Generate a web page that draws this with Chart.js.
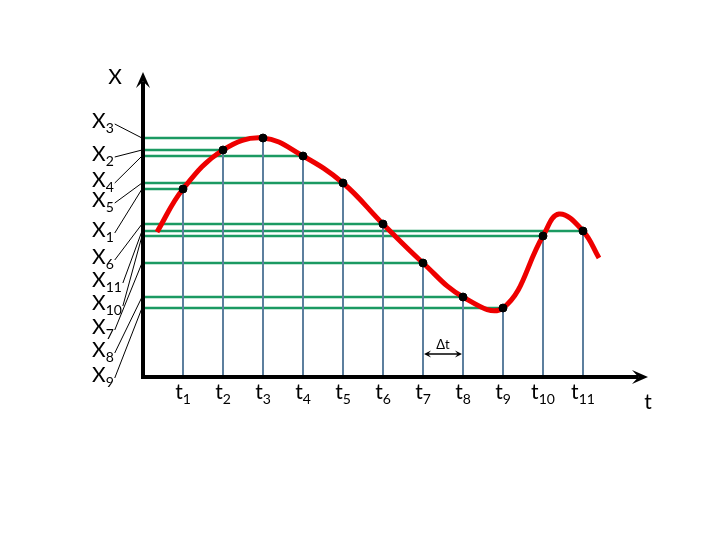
<!DOCTYPE html>
<html>
<head>
<meta charset="utf-8">
<script src="https://cdn.jsdelivr.net/npm/chart.js@4"></script>
<style>
  body { margin: 0; background: #fff; }
</style>
</head>
<body>
<canvas id="myChart" width="720" height="540"></canvas>
<script>
// sample instants t1..t11 and the value x at each one
const tNames = ['1', '2', '3', '4', '5', '6', '7', '8', '9', '10', '11'];
const tValues = [1, 2, 3, 4, 5, 6, 7, 8, 9, 10, 11];
const xValues = [18.8, 22.7, 23.9, 22.1, 19.4, 15.3, 11.4, 8.0, 6.9, 14.1, 14.6];
// order of the X labels down the left side
const xLabelOrder = [3, 2, 4, 5, 1, 6, 11, 10, 7, 8, 9];
// red signal curve
const curveT = [0.35, 1, 2, 3, 4, 5, 6, 7, 8, 9, 10, 10.4, 11, 11.4];
const curveX = [14.5, 18.8, 22.7, 23.9, 22.1, 19.4, 15.3, 11.4, 8.0, 6.9, 14.1, 16.3, 14.6, 11.9];

const FONT = 'Lato, "Open Sans", sans-serif';

// green horizontal and blue vertical guide lines, one segment per sample
const greenLines = [];
const blueLines = [];
tValues.forEach((t, i) => {
    greenLines.push({x: 0, y: xValues[i]}, {x: t, y: xValues[i]}, {x: t, y: null});
    blueLines.push({x: t, y: 0}, {x: t, y: xValues[i]}, {x: t, y: null});
});

function drawSub(ctx, base, sub, x, y, align) {
    ctx.font = '21px ' + FONT;
    const wb = ctx.measureText(base).width;
    ctx.font = '14px ' + FONT;
    const ws = ctx.measureText(sub).width;
    let left = x;
    if (align === 'center') left = x - (wb + ws) / 2;
    ctx.textAlign = 'left';
    ctx.textBaseline = 'alphabetic';
    ctx.font = '21px ' + FONT;
    ctx.fillText(base, left, y);
    ctx.font = '14px ' + FONT;
    ctx.fillText(sub, left + wb, y + 5);
    return left + wb + ws;
}

function arrowHead(ctx, x, y, dir, len, half) {
    // dir: unit vector of arrow direction
    const [dx, dy] = dir;
    ctx.beginPath();
    ctx.moveTo(x, y);
    ctx.lineTo(x - dx * len - dy * half, y - dy * len + dx * half);
    ctx.lineTo(x - dx * len * 0.6, y - dy * len * 0.6);
    ctx.lineTo(x - dx * len + dy * half, y - dy * len - dx * half);
    ctx.closePath();
    ctx.fill();
}

const axesPlugin = {
    id: 'axesPlugin',
    afterDraw(chart) {
        const ctx = chart.ctx;
        const xs = chart.scales.x, ys = chart.scales.y;
        const x0 = xs.getPixelForValue(0), y0 = ys.getPixelForValue(0);
        const xEnd = xs.right, yEnd = ys.top;
        ctx.save();
        ctx.fillStyle = '#000';
        ctx.strokeStyle = '#000';

        // axes
        ctx.lineWidth = 4;
        ctx.beginPath();
        ctx.moveTo(x0, yEnd + 10);
        ctx.lineTo(x0, y0);
        ctx.lineTo(xEnd - 10, y0);
        ctx.stroke();
        arrowHead(ctx, x0, yEnd, [0, -1], 16, 7);
        arrowHead(ctx, xEnd, y0, [1, 0], 16, 7);

        // axis names
        ctx.font = '21px ' + FONT;
        ctx.textAlign = 'center';
        ctx.textBaseline = 'middle';
        ctx.fillText('X', x0 - 28, yEnd + 5);
        ctx.fillText('t', xEnd, y0 + 25);

        // t labels
        tValues.forEach((t, i) => {
            drawSub(ctx, 't', tNames[i], xs.getPixelForValue(t), y0 + 22, 'center');
        });

        // X labels with leader lines to the axis
        const labelTop = 128, labelGap = [0, 33, 26, 20, 30, 27, 23, 23, 24, 23, 25];
        let ly = labelTop;
        ctx.lineWidth = 1;
        xLabelOrder.forEach((k, j) => {
            ly += labelGap[j];
            const right = drawSub(ctx, 'X', String(k), 92, ly, 'left');
            const gy = ys.getPixelForValue(xValues[k - 1]);
            ctx.beginPath();
            ctx.moveTo(right + 1, ly - 4);
            ctx.lineTo(x0 - 1, gy);
            ctx.stroke();
        });

        // delta t marker between t7 and t8
        const a = xs.getPixelForValue(tValues[6]), b = xs.getPixelForValue(tValues[7]);
        const dy = y0 - 23;
        ctx.lineWidth = 1.5;
        ctx.beginPath();
        ctx.moveTo(a + 3, dy);
        ctx.lineTo(b - 3, dy);
        ctx.stroke();
        arrowHead(ctx, a + 1, dy, [-1, 0], 7, 3.5);
        arrowHead(ctx, b - 1, dy, [1, 0], 7, 3.5);
        ctx.font = '13px ' + FONT;
        ctx.textAlign = 'center';
        ctx.textBaseline = 'alphabetic';
        ctx.fillText('\u0394t', (a + b) / 2, dy - 5);
        ctx.restore();
    }
};

new Chart(document.getElementById('myChart'), {
    type: 'scatter',
    data: {
        datasets: [
            {
                data: tValues.map((t, i) => ({x: t, y: xValues[i]})),
                pointRadius: 4,
                pointBackgroundColor: '#000',
                pointBorderColor: '#000',
                showLine: false,
                order: 0
            },
            {
                data: curveT.map((t, i) => ({x: t, y: curveX[i]})),
                showLine: true,
                borderColor: '#ee0000',
                borderWidth: 5,
                pointRadius: 0,
                tension: 0.4,
                order: 1
            },
            {
                data: blueLines,
                showLine: true,
                spanGaps: false,
                borderColor: '#5c7f9e',
                borderWidth: 2,
                pointRadius: 0,
                order: 2
            },
            {
                data: greenLines,
                showLine: true,
                spanGaps: false,
                borderColor: '#1b9a62',
                borderWidth: 2.5,
                pointRadius: 0,
                order: 3
            }
        ]
    },
    options: {
        responsive: false,
        animation: false,
        layout: { padding: { left: 143, right: 72, top: 72, bottom: 163 } },
        scales: {
            x: { type: 'linear', min: 0, max: 12.625, display: false },
            y: { type: 'linear', min: 0, max: 30.5, display: false }
        },
        plugins: {
            legend: { display: false },
            tooltip: { enabled: false }
        }
    },
    plugins: [axesPlugin]
});
</script>
</body>
</html>
